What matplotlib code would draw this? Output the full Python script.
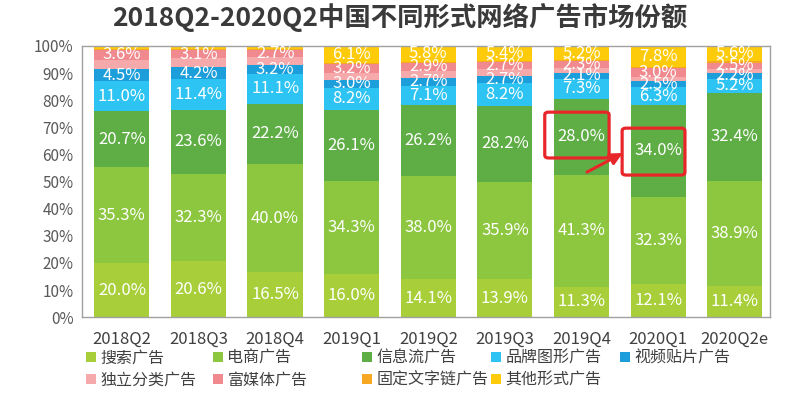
import matplotlib
matplotlib.use("Agg")
import matplotlib.pyplot as plt
from matplotlib.patches import FancyBboxPatch
import numpy as np

plt.rcParams['font.family'] = ['Noto Sans CJK SC', 'DejaVu Sans']

categories = ["2018Q2", "2018Q3", "2018Q4", "2019Q1", "2019Q2", "2019Q3", "2019Q4", "2020Q1", "2020Q2e"]
series_names = ["搜索广告", "电商广告", "信息流广告", "品牌图形广告", "视频贴片广告",
                "独立分类广告", "富媒体广告", "固定文字链广告", "其他形式广告"]

search   = [20.0, 20.6, 16.5, 16.0, 14.1, 13.9, 11.3, 12.1, 11.4]
ecommerce = [35.3, 32.3, 40.0, 34.3, 38.0, 35.9, 41.3, 32.3, 38.9]
feed     = [20.7, 23.6, 22.2, 26.1, 26.2, 28.2, 28.0, 34.0, 32.4]
brand    = [11.0, 11.4, 11.1, 8.2, 7.1, 8.2, 7.3, 6.3, 5.2]
video    = [4.5, 4.2, 3.2, 3.0, 2.7, 2.7, 2.1, 2.5, 2.2]
classified = [3.5, 3.3, 2.8, 2.6, 2.7, 2.5, 2.0, 1.5, 1.3]
richmedia = [3.6, 3.1, 2.7, 3.2, 2.9, 2.7, 2.3, 3.0, 2.5]
textlink = [0.3, 0.3, 0.3, 0.5, 0.5, 0.5, 0.5, 0.5, 0.5]
other    = [1.1, 1.2, 1.2, 6.1, 5.8, 5.4, 5.2, 7.8, 5.6]

# which series carry visible data labels
labeled = [True, True, True, True, True, False, True, False, None]
other_labeled = [False, False, False, True, True, True, True, True, True]

colors = ["#A8CF3A", "#8DC63F", "#5FAD45", "#2DC3F2", "#1C9EDB",
          "#F5A9AB", "#F08A8F", "#F7A823", "#FECB0A"]

data = [search, ecommerce, feed, brand, video, classified, richmedia, textlink, other]

fig = plt.figure(figsize=(8.0, 3.93), dpi=100)
ax = fig.add_axes([0.1025, 0.193, 0.86, 0.69])

x = np.arange(len(categories))
width = 0.72
bottom = np.zeros(len(categories))
handles = []
for i, (vals, name, col) in enumerate(zip(data, series_names, colors)):
    vals = np.array(vals)
    b = ax.bar(x, vals, width, bottom=bottom, color=col, label=name, linewidth=0)
    handles.append(b)
    for j, v in enumerate(vals):
        show = labeled[i] if i != 8 else other_labeled[j]
        if show:
            ax.text(x[j], bottom[j] + v / 2, f"{v:.1f}%", ha="center", va="center",
                    color="white", fontsize=12)
    bottom += vals

ax.set_xlim(-0.52, 8.46)
ax.set_ylim(0, 100)
ax.set_xticks(x)
ax.set_xticklabels(categories, fontsize=12, color="#404040")
ax.set_yticks(np.arange(0, 101, 10))
ax.set_yticklabels([f"{v}%" for v in range(0, 101, 10)], fontsize=11, color="#595959")
ax.tick_params(axis="y", length=0, pad=6)
ax.tick_params(axis="x", length=0, pad=10)
for s in ax.spines.values():
    s.set_color("#A0A0A0")
    s.set_linewidth(1)

# annotation boxes and arrow
r1 = FancyBboxPatch((5.52, 58.7), 0.84, 16.9, boxstyle="round,pad=0,rounding_size=0.05",
                    fill=False, edgecolor="#E8262A", linewidth=2.3, mutation_aspect=20)
r2 = FancyBboxPatch((6.53, 52.4), 0.82, 17.3, boxstyle="round,pad=0,rounding_size=0.05",
                    fill=False, edgecolor="#E8262A", linewidth=2.3, mutation_aspect=20)
ax.add_patch(r1)
ax.add_patch(r2)
ax.annotate("", xy=(6.57, 61.0), xytext=(6.04, 53.0),
            arrowprops=dict(arrowstyle="-|>,head_length=0.7,head_width=0.35",
                            color="#E8262A", lw=2.2))

# legend: one legend per column, placed at the reference's column positions
columns = [[0, 5], [1, 6], [2, 7], [3, 8], [4]]
col_x = [86, 213, 362, 491, 620]
for cols, cx in zip(columns, col_x):
    leg = fig.legend([handles[k] for k in cols], [series_names[k] for k in cols],
                     ncol=1, loc="upper left", bbox_to_anchor=(cx / 800, 1 - 350 / 393),
                     frameon=False, fontsize=11.5, handlelength=0.6, handleheight=0.6,
                     handletextpad=0.3, labelspacing=0.3,
                     borderaxespad=0, borderpad=0)
    for t in leg.get_texts():
        t.set_color("#404040")

fig.text(0.5, 0.955, "2018Q2-2020Q2中国不同形式网络广告市场份额", ha="center", va="center",
         fontsize=19, fontweight="bold", color="#3A3A3A")

fig.savefig("out.png", dpi=100)
